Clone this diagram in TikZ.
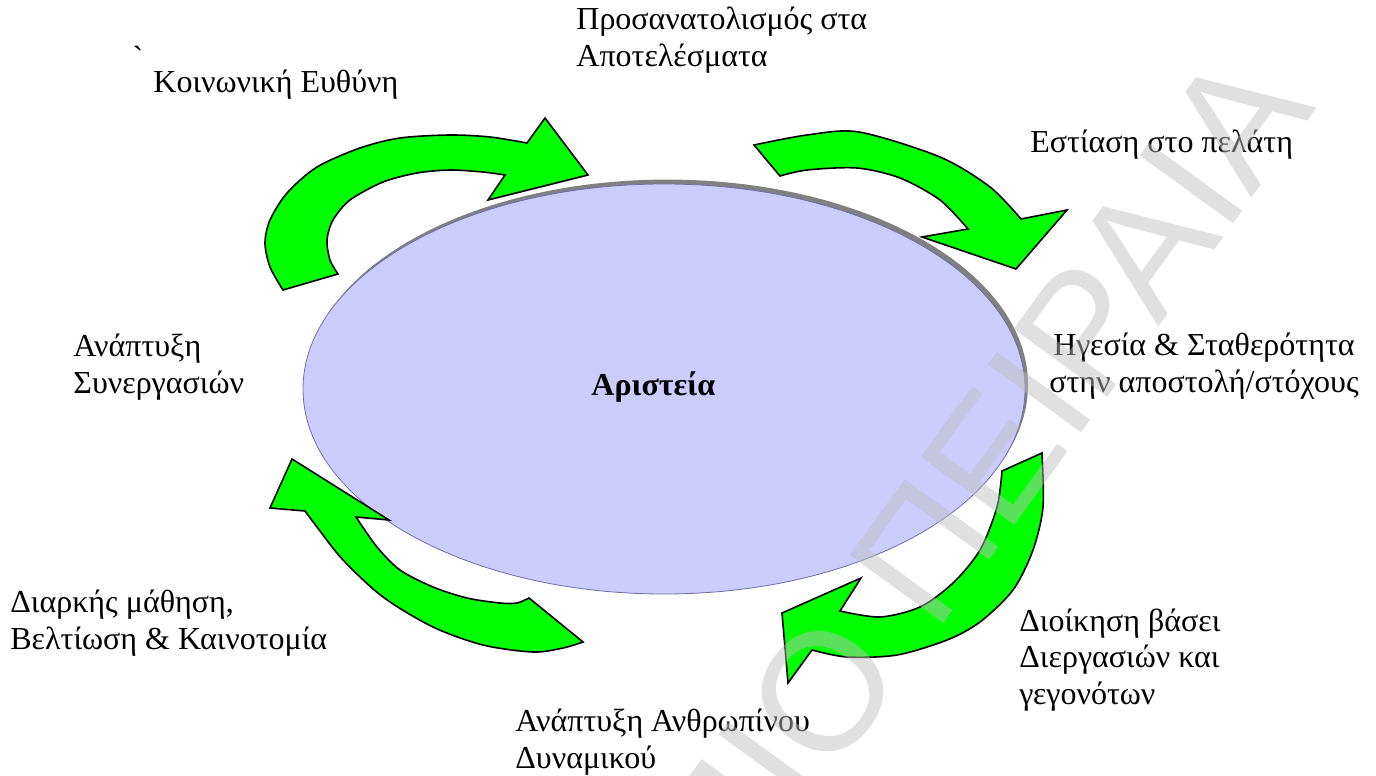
\documentclass[tikz,border=0pt]{standalone}
\usepackage{fontspec}
\setmainfont{Liberation Serif}[Ligatures=TeXOff]
\newfontfamily\wmfont{Liberation Sans}
\usepackage{tikz}
\usetikzlibrary{shapes.geometric,shadows}
\definecolor{ellfill}{RGB}{204,204,255}
\definecolor{elldraw}{RGB}{110,110,170}
\definecolor{arrgreen}{RGB}{0,255,0}

\begin{document}
\begin{tikzpicture}[x=0.5pt,y=-0.5pt,line join=miter,
  lbl/.style={inner sep=0pt,font=\fontsize{16}{18.25}\selectfont,align=left,anchor=base west},
  greenarrow/.style={draw=black,fill=arrgreen,line width=0.8pt},
  ]
\useasboundingbox (0,0) rectangle (1376,776);
%% the core ellipse
\node (core) at (664,389) [ellipse, draw=elldraw, fill=ellfill, line width=0.4pt,
  minimum width=361pt, minimum height=205pt, inner sep=0pt,
  drop shadow={shadow xshift=1.5pt,shadow yshift=2.2pt,fill=gray,opacity=1}] {};
\node (excel) at (591,395) [lbl, font=\fontsize{16}{18.25}\selectfont\bfseries] {Αριστεία};
%% curved arrows
\draw[greenarrow] plot[smooth] coordinates {(283,290) (270,267) (265,243) (270,220) (287,193) (317,167)
    (360,148) (400,138) (450,135) (490,137) (527,143)}
  -- (545,118) -- (588,175) -- (488,200)
  -- plot[smooth] coordinates {(505,175) (483,172) (450,170) (417,173) (383,182) (350,200) (333,220)
    (327,240) (330,260) (338,274)} -- cycle;
\draw[greenarrow] plot[smooth] coordinates {(754,145) (807,135) (859,132) (940,157) (990,187) (1021,219)}
  -- (1067,210) -- (1016,269) -- (922,237)
  -- plot[smooth] coordinates {(968,229) (940,200) (900,178) (857,168) (807,170) (780,176)} -- cycle;
\draw[greenarrow] plot[smooth] coordinates {(1042,453) (1043,507) (1033,550) (1013,590) (980,622)
    (947,640) (897,655) (847,657) (812,650)}
  -- (788,683) -- (782,613) -- (861,578)
  -- plot[smooth] coordinates {(840,611) (880,617) (920,607) (953,583) (980,550) (997,507) (1002,471)} -- cycle;
\draw[greenarrow] plot[smooth] coordinates {(583,642) (563,648) (533,652) (483,645) (433,627) (383,597)
    (343,560) (317,527) (305,511)}
  -- (270,508) -- (292,459) -- (389,520)
  -- plot[smooth] coordinates {(356,517) (377,547) (400,570) (433,587) (467,598) (500,603) (517,603)
    (529,598)} -- cycle;
%% labels
\node (tick) at (138,57) [inner sep=0pt,font=\fontsize{16}{18.25}\selectfont] {`};
\node (social) at (153,92) [lbl] {Κοινωνική Ευθύνη};
\node (results) at (576,66) [lbl] {Προσανατολισμός στα\\Αποτελέσματα};
\node (client) at (1030,152) [lbl] {Εστίαση στο πελάτη};
\node (lead) at (1204,392) [lbl, align=center, anchor=base] {Ηγεσία \& Σταθερότητα\\στην αποστολή/στόχους};
\node (process) at (1019,704) [lbl] {Διοίκηση βάσει\\Διεργασιών και\\γεγονότων};
\node (people) at (515,768) [lbl] {Ανάπτυξη Ανθρωπίνου\\Δυναμικού};
\node (learn) at (10,649) [lbl] {Διαρκής μάθηση,\\Βελτίωση \& Καινοτομία};
\node (partner) at (73,393) [lbl] {Ανάπτυξη\\Συνεργασιών};
%% watermark
\node (wm) at (1318,108) [anchor=base east, rotate=54, inner sep=0pt,
  font=\wmfont\fontsize{84}{84}\selectfont, text=black!25, opacity=0.48] {ΠΑΝΕΠΙΣΤΗΜΙΟ ΠΕΙΡΑΙΑ};
\end{tikzpicture}
\end{document}
